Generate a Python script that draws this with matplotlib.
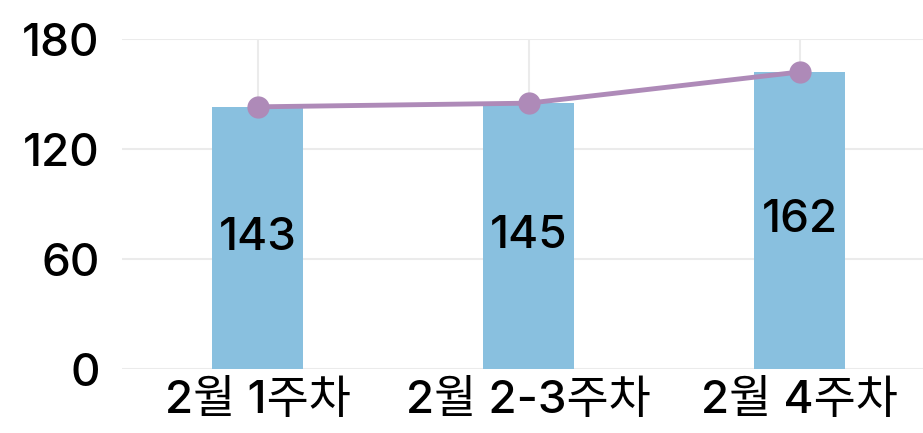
import matplotlib.pyplot as plt

plt.rcParams['font.family'] = ['Inter', 'Noto Sans CJK KR', 'DejaVu Sans']
plt.rcParams['font.weight'] = 'medium'

categories = ['2월 1주차', '2월 2-3주차', '2월 4주차']
bar_values = [143, 145, 162]
line_values = [143, 145, 162]
y_ticks = [0, 60, 120, 180]

BAR_COLOR = '#89c0df'
LINE_COLOR = '#ae8ab8'
GRID_COLOR = '#ebebeb'

fig = plt.figure(figsize=(9.23, 4.33), dpi=100)
ax = fig.add_axes([122 / 923, 64 / 433, 813 / 923, 330 / 433])

x = list(range(len(categories)))
ax.bar(x, bar_values, width=0.335, color=BAR_COLOR, zorder=2)
ax.plot(x, line_values, color=LINE_COLOR, linewidth=3.5, marker='o',
        markersize=15, zorder=3)

for xi, v in zip(x, bar_values):
    ax.text(xi, v / 2, str(v), ha='center', va='center', fontsize=33,
            color='black', zorder=4)

ax.set_xlim(-0.5, 2.5)
ax.set_ylim(0, 180)
ax.set_yticks(y_ticks)
ax.set_xticks(x)
ax.set_xticklabels(categories)
ax.tick_params(axis='both', length=0, labelsize=33)
ax.tick_params(axis='y', pad=16)
ax.tick_params(axis='x', pad=8)

ax.grid(True, color=GRID_COLOR, linewidth=1.5, zorder=0)
ax.set_axisbelow(True)
for s in ax.spines.values():
    s.set_visible(False)

fig.savefig('out.png', dpi=100)
